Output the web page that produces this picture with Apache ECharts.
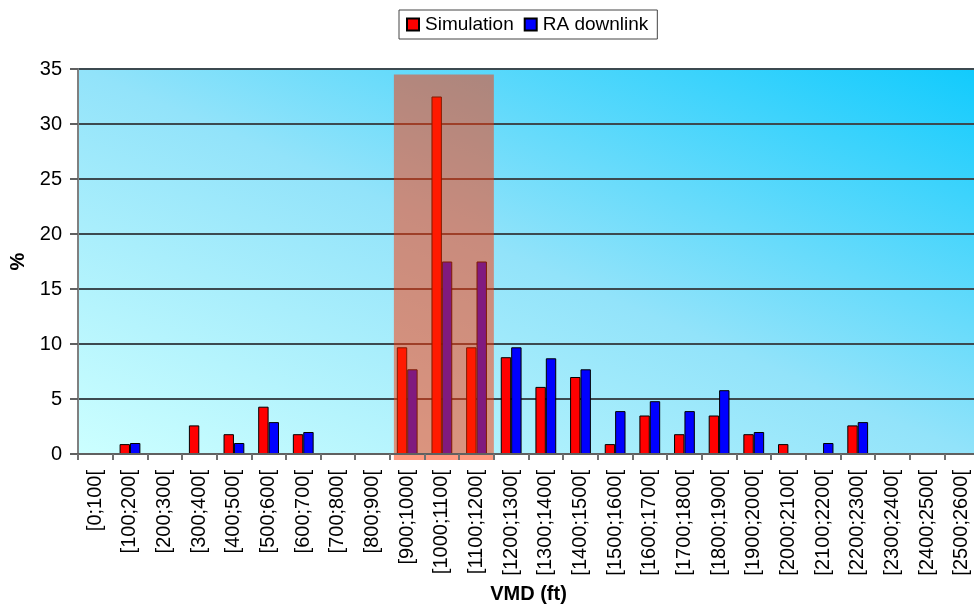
<!DOCTYPE html>
<html>
<head>
<meta charset="utf-8">
<script src="https://cdn.jsdelivr.net/npm/echarts@6/dist/echarts.min.js"></script>
<style>
html,body{margin:0;padding:0;background:#fff;}
#chart{width:974px;height:610px;}
</style>
</head>
<body>
<div id="chart"></div>
<script>
var categories = ['[0;100[','[100;200[','[200;300[','[300;400[','[400;500[','[500;600[','[600;700[','[700;800[','[800;900[','[900;1000[','[1000;1100[','[1100;1200[','[1200;1300[','[1300;1400[','[1400;1500[','[1500;1600[','[1600;1700[','[1700;1800[','[1800;1900[','[1900;2000[','[2000;2100[','[2100;2200[','[2200;2300[','[2300;2400[','[2400;2500[','[2500;2600['];
var simulation = [0, 0.9, 0, 2.6, 1.8, 4.3, 1.8, 0, 0, 9.7, 32.5, 9.7, 8.8, 6.1, 7.0, 0.9, 3.5, 1.8, 3.5, 1.8, 0.9, 0, 2.6, 0, 0, 0];
var raDownlink = [0, 1.0, 0, 0, 1.0, 2.9, 2.0, 0, 0, 7.7, 17.5, 17.5, 9.7, 8.7, 7.7, 3.9, 4.8, 3.9, 5.8, 2.0, 0, 1.0, 2.9, 0, 0, 0];
var yTicks = [0, 5, 10, 15, 20, 25, 30, 35];
// highlighted band: first category index, last category index, top value
var highlight = [[9, 11, 34.5]];

var chart = echarts.init(document.getElementById('chart'));
var font = 'Liberation Sans, Arial, sans-serif';
chart.setOption({
  animation: false,
  legend: {
    top: 10, left: 399,
    itemWidth: 12, itemHeight: 12, itemGap: 10,
    padding: [5, 9, 5, 7],
    borderColor: '#444', borderWidth: 1,
    textStyle: {fontFamily: font, fontSize: 19, color: '#000', padding: [0, 0, 0, 1]},
    data: [{name: 'Simulation', icon: 'rect'}, {name: 'RA downlink', icon: 'rect'}]
  },
  grid: {left: 78, right: -5, top: 69, bottom: 156,
    outerBoundsMode: 'none', containLabel: false,
    show: true, borderWidth: 0,
    backgroundColor: new echarts.graphic.LinearGradient(0, 1, 0.312, -0.688, [
      {offset: 0, color: '#ccffff'},
      {offset: 0.5, color: '#92e3fa'},
      {offset: 1, color: '#12cbfd'}
    ])
  },
  xAxis: {
    type: 'category', data: categories,
    name: 'VMD (ft)', nameLocation: 'middle', nameGap: 130,
    nameTextStyle: {fontFamily: font, fontSize: 20, fontWeight: 'bold', color: '#000'},
    axisLine: {lineStyle: {color: '#606060', width: 2}},
    axisTick: {show: true, length: 6, lineStyle: {color: '#707070', width: 2}},
    axisLabel: {rotate: 90, interval: 0, fontFamily: font, fontSize: 20, color: '#000', margin: 16},
    z: 10
  },
  yAxis: {
    type: 'value', min: 0, max: 35, interval: 5,
    name: '%', nameLocation: 'middle', nameGap: 46,
    nameTextStyle: {fontFamily: font, fontSize: 20, fontWeight: 'bold', color: '#000'},
    axisLine: {show: true, lineStyle: {color: '#808080', width: 2}},
    axisTick: {show: true, length: 8, lineStyle: {color: '#606060', width: 2}},
    axisLabel: {fontFamily: font, fontSize: 20, color: '#000', margin: 16,
      formatter: function (v) { return yTicks.indexOf(v) >= 0 ? String(v) : ''; }},
    splitLine: {lineStyle: {color: '#3c4a50', width: 2}}
  },
  series: [
    {name: 'Simulation', type: 'bar', data: simulation, barGap: '0%', barCategoryGap: '40%',
      itemStyle: {color: '#ff0000', borderColor: '#000', borderWidth: 1}},
    {name: 'RA downlink', type: 'bar', data: raDownlink,
      itemStyle: {color: '#0000ff', borderColor: '#000', borderWidth: 1}},
    {type: 'custom', data: highlight, z: 5, silent: true, clip: false,
      renderItem: function (params, api) {
        var s = api.coord([api.value(0), 0]);
        var e = api.coord([api.value(1), api.value(2)]);
        var w = api.size([1, 0])[0];
        var x0 = s[0] - w / 2 + 4, x1 = e[0] + w / 2;
        return {type: 'rect',
          shape: {x: x0, y: e[1], width: x1 - x0, height: s[1] - e[1] + 6},
          style: {fill: 'rgba(255,52,0,0.5)'}};
      },
      encode: {x: 0, y: 2}
    }
  ]
});
</script>
</body>
</html>
